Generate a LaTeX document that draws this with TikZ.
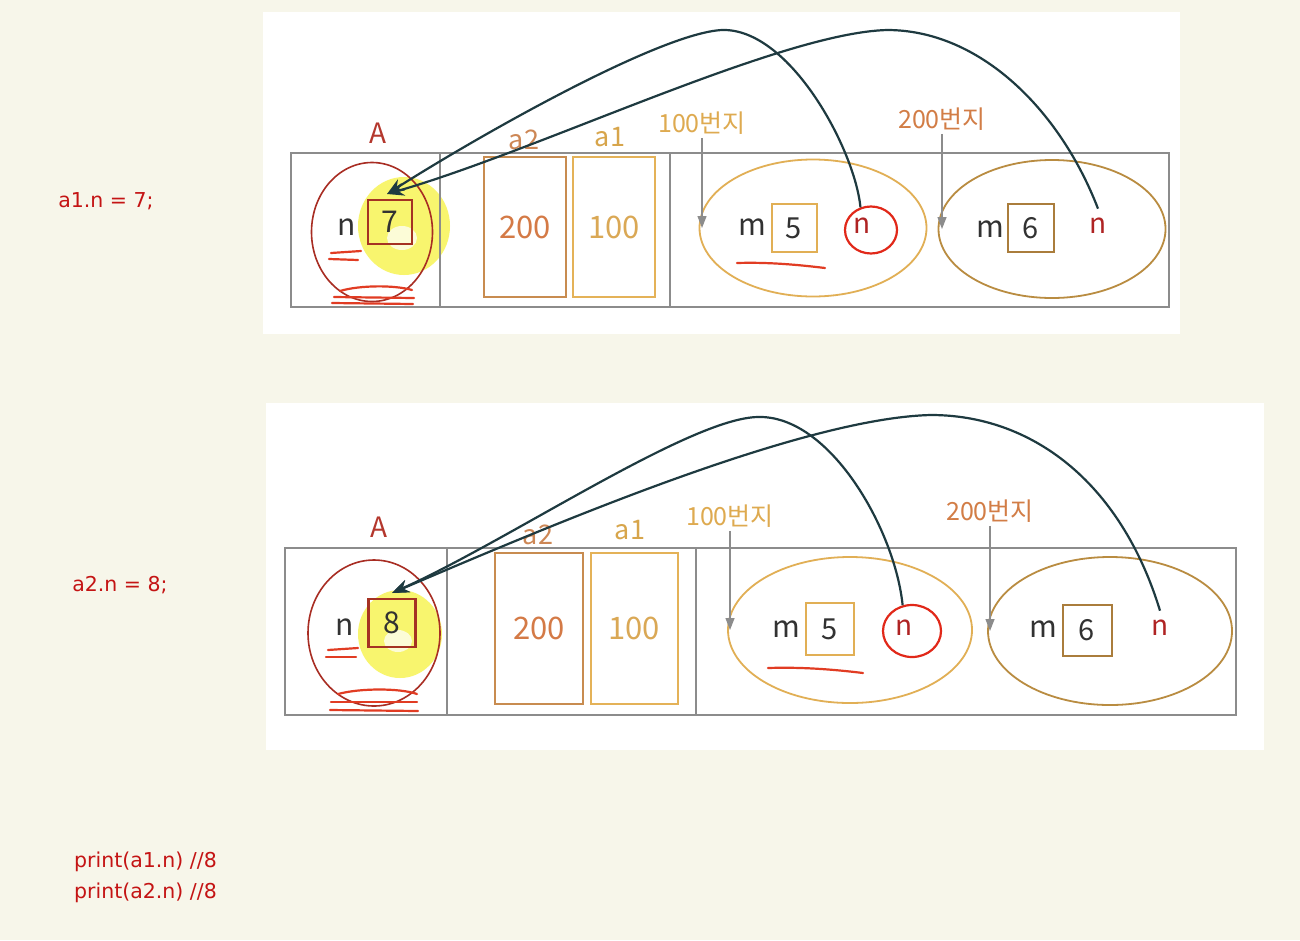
\documentclass[tikz,border=0pt]{standalone}
\usepackage{fontspec}
\setmainfont{Noto Sans CJK KR}
\newfontfamily\dvfont{DejaVu Sans}
\usetikzlibrary{arrows.meta,shapes.geometric,calc}
\definecolor{bgcream}{RGB}{247,246,234}
\definecolor{framegray}{RGB}{140,140,140}
\definecolor{objred}{RGB}{168,45,35}
\definecolor{boxred}{RGB}{165,50,35}
\definecolor{txtdark}{RGB}{50,50,50}
\definecolor{alabel}{RGB}{180,55,45}
\definecolor{a2col}{RGB}{200,140,80}
\definecolor{a1col}{RGB}{228,178,88}
\definecolor{t200}{RGB}{212,122,70}
\definecolor{t100}{RGB}{218,168,85}
\definecolor{a2lbl}{RGB}{205,135,85}
\definecolor{a1lbl}{RGB}{215,165,75}
\definecolor{addrgold}{RGB}{222,170,80}
\definecolor{addrorng}{RGB}{210,125,70}
\definecolor{goldE}{RGB}{225,175,85}
\definecolor{brownE}{RGB}{185,140,65}
\definecolor{brownB}{RGB}{170,125,60}
\definecolor{nred}{RGB}{175,35,35}
\definecolor{ringred}{RGB}{225,40,25}
\definecolor{ptrcol}{RGB}{30,58,64}
\definecolor{codered}{RGB}{196,20,20}
\definecolor{hlyellow}{RGB}{248,245,110}
\definecolor{hlinner}{RGB}{252,252,215}
\definecolor{scribred}{RGB}{225,60,35}
\newcommand\fsz[1]{\fontsize{#1}{#1}\selectfont}
\begin{document}
\begin{tikzpicture}[x=1pt,y=-1pt,
  frame/.style={draw=framegray, line width=1.8pt},
  objc/.style={ellipse, draw=objred, line width=1.6pt, inner sep=0pt},
  valbox/.style={rectangle, draw=boxred, line width=2.6pt, inner sep=0pt, text=txtdark, font=\fsz{30}},
  vname/.style={text=txtdark, font=\fsz{30}, inner sep=1pt},
  clsA/.style={text=alabel, font=\fsz{28}},
  refA2/.style={rectangle, draw=a2col, line width=2pt, inner sep=0pt, text=t200, font=\fsz{31}},
  refA1/.style={rectangle, draw=a1col, line width=2pt, inner sep=0pt, text=t100, font=\fsz{31}},
  lbltwo/.style={text=a2lbl, font=\fsz{27}},
  lblone/.style={text=a1lbl, font=\fsz{27}},
  addrone/.style={text=addrgold, font=\fsz{25}},
  addrtwo/.style={text=addrorng, font=\fsz{25}},
  heapA/.style={ellipse, draw=goldE, line width=1.8pt, inner sep=0pt},
  heapB/.style={ellipse, draw=brownE, line width=1.8pt, inner sep=0pt},
  fboxfive/.style={rectangle, draw=goldE, line width=2pt, inner sep=0pt, text=txtdark, font=\fsz{29}},
  fboxsix/.style={rectangle, draw=brownB, line width=2pt, inner sep=0pt, text=txtdark, font=\fsz{29}},
  nredtxt/.style={text=nred, font=\fsz{28}},
  ring/.style={ellipse, draw=ringred, line width=2.2pt, inner sep=0pt},
  ptr/.style={draw=ptrcol, line width=2.2pt, -{Stealth[length=17pt,width=13pt]}},
  gptr/.style={draw=framegray, line width=1.3pt, -{Triangle[length=12pt,width=9pt]}},
  scrib/.style={draw=scribred, line width=2.2pt, line cap=round},
  codetxt/.style={text=codered, font=\dvfont\fontsize{20.5}{31}\selectfont, inner sep=0pt}]
\useasboundingbox (0,0) rectangle (1300,940);
\fill[bgcream] (0,0) rectangle (1300,940);

% code on the left
\node[codetxt] (c1) at (106,201) {a1.n = 7;};
\node[codetxt] (c2) at (120,585) {a2.n = 8;};
\node[codetxt, anchor=west, align=left] (c3) at (74,877) {print(a1.n) //8\\print(a2.n) //8};

% ================= top panel =================
\fill[white] (263,12) rectangle (1180,334);
\fill[hlyellow] (404,226) ellipse [x radius=46pt, y radius=49pt];
\fill[hlinner] (402,238) ellipse [x radius=15pt, y radius=12pt];
\draw[frame] (291,153) rectangle (1169,307);
\draw[frame] (440,153) -- (440,307);
\draw[frame] (670,153) -- (670,307);

\node[clsA] (A1) at (378,133) {A};
\node[objc, minimum width=121pt, minimum height=139pt] (obj1) at (372,232) {};
\node[vname] (nA1) at (347,227) {n};
\node[valbox, minimum width=44pt, minimum height=44pt] (val1) at (390,222) {7};
\node[lbltwo] (la2t) at (524,140) {a2};
\node[lblone] (la1t) at (610,137) {a1};
\node[refA2, minimum width=82pt, minimum height=140pt] (r2t) at (525,227) {200};
\node[refA1, minimum width=82pt, minimum height=140pt] (r1t) at (614,227) {100};
\node[addrone] (ad1t) at (702,123) {100번지};
\node[addrtwo] (ad2t) at (942,119) {200번지};
\node[heapA, minimum width=227pt, minimum height=137pt] (h1) at (813,228) {};
\node[heapB, minimum width=227pt, minimum height=138pt] (h2) at (1052,229) {};
\node[vname] (m1) at (752,227) {m};
\node[fboxfive, minimum width=45pt, minimum height=48pt] (f5t) at (794,228) {5};
\node[nredtxt] (n1) at (862,226) {n};
\node[ring, minimum width=52pt, minimum height=47pt] (rg1) at (871,230) {};
\node[vname] (m2) at (990,229) {m};
\node[fboxsix, minimum width=46pt, minimum height=48pt] (f6t) at (1031,228) {6};
\node[nredtxt] (n2) at (1098,226) {n};
\coordinate (tip1) at (387,194);

\draw[scrib] (331,253) -- (361,251);
\draw[scrib] (329,259) -- (358,260);
\draw[scrib] (340,291) .. controls (360,285) and (395,285) .. (412,290);
\draw[scrib] (334,297) -- (414,298);
\draw[scrib] (332,303) -- (413,304);
\draw[scrib] (737,263) .. controls (770,262) and (800,265) .. (825,268);

\draw[gptr] (ad1t.south) -- (ad1t.south |- h1.west);
\draw[gptr] (ad2t.south) -- (ad2t.south |- h2.west);

\draw[ptr] (rg1.115) .. controls (855,150) and (790,28) .. (722,30)
  .. controls (660,33) and (480,135) .. (tip1);
\draw[ptr] ($(n2.north)+(0,-6)$) .. controls (1060,110) and (980,30) .. (887,30)
  .. controls (780,33) and (540,150) .. (tip1);

% ================= bottom panel =================
\fill[white] (266,403) rectangle (1264,750);
\fill[hlyellow] (400,634) ellipse [x radius=42pt, y radius=44pt];
\fill[hlinner] (398,641) ellipse [x radius=14pt, y radius=11pt];
\draw[frame] (285,548) rectangle (1236,715);
\draw[frame] (447,548) -- (447,715);
\draw[frame] (696,548) -- (696,715);

\node[clsA] (A2) at (379,527) {A};
\node[objc, minimum width=132pt, minimum height=146pt] (obj2) at (374,633) {};
\node[vname] (nA2) at (345,627) {n};
\node[valbox, minimum width=47pt, minimum height=48pt] (val2) at (392,623) {8};
\node[lbltwo] (la2b) at (538,535) {a2};
\node[lblone] (la1b) at (630,530) {a1};
\node[refA2, minimum width=88pt, minimum height=151pt] (r2b) at (539,628) {200};
\node[refA1, minimum width=87pt, minimum height=151pt] (r1b) at (634,628) {100};
\node[addrone] (ad1b) at (730,516) {100번지};
\node[addrtwo] (ad2b) at (990,511) {200번지};
\node[heapA, minimum width=244pt, minimum height=146pt] (h3) at (850,630) {};
\node[heapB, minimum width=244pt, minimum height=148pt] (h4) at (1110,631) {};
\node[vname] (m3) at (786,629) {m};
\node[fboxfive, minimum width=48pt, minimum height=52pt] (f5b) at (830,629) {5};
\node[nredtxt] (n3) at (904,628) {n};
\node[ring, minimum width=58pt, minimum height=52pt] (rg3) at (912,631) {};
\node[vname] (m4) at (1043,629) {m};
\node[fboxsix, minimum width=49pt, minimum height=51pt] (f6b) at (1087,630) {6};
\node[nredtxt] (n4) at (1160,628) {n};
\coordinate (tip2) at (392,593);

\draw[scrib] (328,650) -- (358,648);
\draw[scrib] (326,657) -- (356,657);
\draw[scrib] (338,694) .. controls (360,688) and (400,688) .. (417,694);
\draw[scrib] (331,702) -- (417,702);
\draw[scrib] (330,710) -- (418,711);
\draw[scrib] (768,668) .. controls (800,667) and (830,669) .. (863,673);

\draw[gptr] (ad1b.south) -- (ad1b.south |- h3.west);
\draw[gptr] (ad2b.south) -- (ad2b.south |- h4.west);

\draw[ptr] (rg3.110) .. controls (895,530) and (830,415) .. (758,417)
  .. controls (690,418) and (510,540) .. (tip2);
\draw[ptr] ($(n4.north)+(0,-6)$) .. controls (1120,480) and (1030,415) .. (931,415)
  .. controls (800,418) and (540,530) .. (tip2);
\end{tikzpicture}
\end{document}
